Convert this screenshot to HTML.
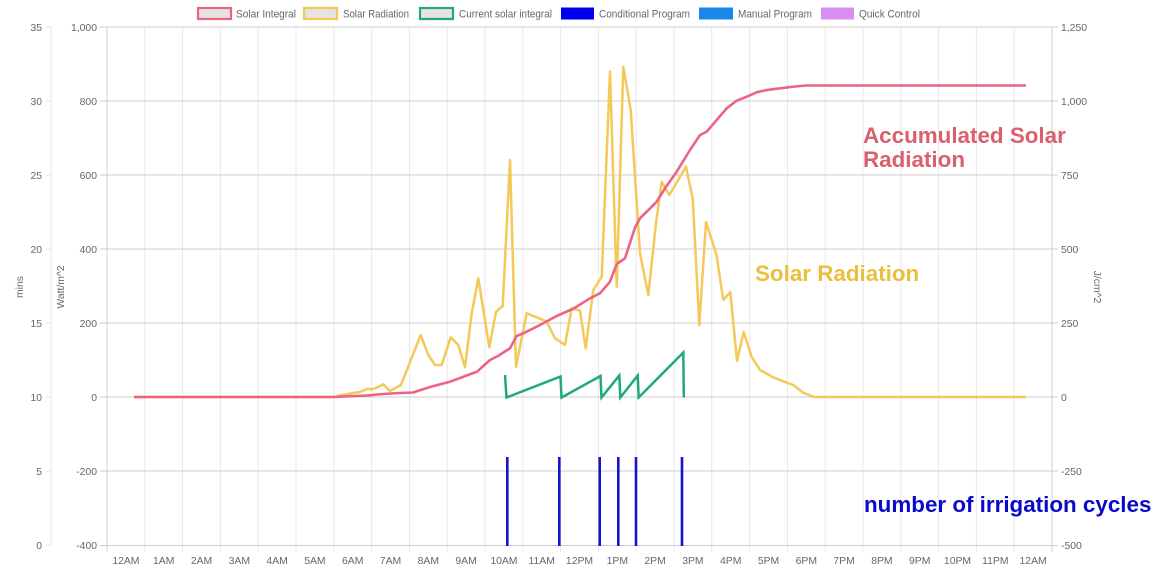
<!DOCTYPE html>
<html>
<head>
<meta charset="utf-8">
<style>
  html,body{margin:0;padding:0;background:#fff;}
  svg{display:block;}
  text{font-family:"Liberation Sans", Arial, sans-serif;}
</style>
</head>
<body>
<svg width="1160" height="576" viewBox="0 0 1160 576" xmlns="http://www.w3.org/2000/svg">
  <rect width="1160" height="576" fill="#fff"/>

  <!-- vertical gridlines -->
  <g stroke="#e8e8ec" stroke-width="1">
    <line x1="144.8" y1="27" x2="144.8" y2="552"/>
    <line x1="182.6" y1="27" x2="182.6" y2="552"/>
    <line x1="220.4" y1="27" x2="220.4" y2="552"/>
    <line x1="258.2" y1="27" x2="258.2" y2="552"/>
    <line x1="296" y1="27" x2="296" y2="552"/>
    <line x1="333.8" y1="27" x2="333.8" y2="552"/>
    <line x1="371.6" y1="27" x2="371.6" y2="552"/>
    <line x1="409.4" y1="27" x2="409.4" y2="552"/>
    <line x1="447.2" y1="27" x2="447.2" y2="552"/>
    <line x1="485" y1="27" x2="485" y2="552"/>
    <line x1="522.8" y1="27" x2="522.8" y2="552"/>
    <line x1="560.6" y1="27" x2="560.6" y2="552"/>
    <line x1="598.4" y1="27" x2="598.4" y2="552"/>
    <line x1="636.2" y1="27" x2="636.2" y2="552"/>
    <line x1="674" y1="27" x2="674" y2="552"/>
    <line x1="711.8" y1="27" x2="711.8" y2="552"/>
    <line x1="749.6" y1="27" x2="749.6" y2="552"/>
    <line x1="787.4" y1="27" x2="787.4" y2="552"/>
    <line x1="825.2" y1="27" x2="825.2" y2="552"/>
    <line x1="863" y1="27" x2="863" y2="552"/>
    <line x1="900.8" y1="27" x2="900.8" y2="552"/>
    <line x1="938.6" y1="27" x2="938.6" y2="552"/>
    <line x1="976.4" y1="27" x2="976.4" y2="552"/>
    <line x1="1014.2" y1="27" x2="1014.2" y2="552"/>
  </g>

  <!-- mins axis line -->
  <line x1="51" y1="27" x2="51" y2="545" stroke="#e6e6e6" stroke-width="1"/>
  <g stroke="#e6e6e6" stroke-width="1">
    <line x1="46" y1="27" x2="51" y2="27"/>
    <line x1="46" y1="101" x2="51" y2="101"/>
    <line x1="46" y1="175" x2="51" y2="175"/>
    <line x1="46" y1="249" x2="51" y2="249"/>
    <line x1="46" y1="323" x2="51" y2="323"/>
    <line x1="46" y1="397" x2="51" y2="397"/>
    <line x1="46" y1="471" x2="51" y2="471"/>
    <line x1="46" y1="545" x2="51" y2="545"/>
  </g>

  <!-- horizontal gridlines -->
  <g stroke="#cdcdcd" stroke-width="1">
    <line x1="100" y1="27" x2="1058" y2="27"/>
    <line x1="100" y1="101" x2="1058" y2="101"/>
    <line x1="100" y1="175" x2="1058" y2="175"/>
    <line x1="100" y1="249" x2="1058" y2="249"/>
    <line x1="100" y1="323" x2="1058" y2="323"/>
    <line x1="100" y1="397" x2="1058" y2="397"/>
    <line x1="100" y1="471" x2="1058" y2="471"/>
    <line x1="100" y1="545.5" x2="1058" y2="545.5"/>
  </g>

  <!-- main axis lines -->
  <line x1="107" y1="27" x2="107" y2="552" stroke="#cfcfcf" stroke-width="1"/>
  <line x1="1052" y1="27" x2="1052" y2="552" stroke="#cfcfcf" stroke-width="1"/>

  <!-- mins tick labels -->
  <g font-size="10.4" fill="#666" text-anchor="end">
    <text x="42" y="31">35</text>
    <text x="42" y="105">30</text>
    <text x="42" y="179">25</text>
    <text x="42" y="253">20</text>
    <text x="42" y="327">15</text>
    <text x="42" y="401">10</text>
    <text x="42" y="475">5</text>
    <text x="42" y="549">0</text>
  </g>

  <!-- Watt tick labels -->
  <g font-size="10.4" fill="#666" text-anchor="end">
    <text x="97" y="31">1,000</text>
    <text x="97" y="105">800</text>
    <text x="97" y="179">600</text>
    <text x="97" y="253">400</text>
    <text x="97" y="327">200</text>
    <text x="97" y="401">0</text>
    <text x="97" y="475">-200</text>
    <text x="97" y="549">-400</text>
  </g>

  <!-- J/cm^2 tick labels -->
  <g font-size="10.4" fill="#666" text-anchor="start">
    <text x="1061" y="31">1,250</text>
    <text x="1061" y="105">1,000</text>
    <text x="1061" y="179">750</text>
    <text x="1061" y="253">500</text>
    <text x="1061" y="327">250</text>
    <text x="1061" y="401">0</text>
    <text x="1061" y="475">-250</text>
    <text x="1061" y="549">-500</text>
  </g>

  <!-- axis titles -->
  <text font-size="10.4" fill="#666" text-anchor="middle" transform="translate(23,287) rotate(-90)">mins</text>
  <text font-size="10.4" fill="#666" text-anchor="middle" transform="translate(64,287) rotate(-90)">Watt/m^2</text>
  <text font-size="10.4" fill="#666" text-anchor="middle" transform="translate(1094,287) rotate(90)">J/cm^2</text>

  <!-- x labels -->
  <g font-size="10.4" fill="#666" text-anchor="middle">
    <text x="125.9" y="564">12AM</text>
    <text x="163.7" y="564">1AM</text>
    <text x="201.5" y="564">2AM</text>
    <text x="239.3" y="564">3AM</text>
    <text x="277.1" y="564">4AM</text>
    <text x="314.9" y="564">5AM</text>
    <text x="352.7" y="564">6AM</text>
    <text x="390.5" y="564">7AM</text>
    <text x="428.3" y="564">8AM</text>
    <text x="466.1" y="564">9AM</text>
    <text x="503.9" y="564">10AM</text>
    <text x="541.7" y="564">11AM</text>
    <text x="579.5" y="564">12PM</text>
    <text x="617.3" y="564">1PM</text>
    <text x="655.1" y="564">2PM</text>
    <text x="692.9" y="564">3PM</text>
    <text x="730.7" y="564">4PM</text>
    <text x="768.5" y="564">5PM</text>
    <text x="806.3" y="564">6PM</text>
    <text x="844.1" y="564">7PM</text>
    <text x="881.9" y="564">8PM</text>
    <text x="919.7" y="564">9PM</text>
    <text x="957.5" y="564">10PM</text>
    <text x="995.3" y="564">11PM</text>
    <text x="1033.1" y="564">12AM</text>
  </g>

  <!-- legend -->
  <g font-size="10.6" fill="#666">
    <rect x="198" y="8" width="33" height="11" fill="#e6e3e0" stroke="#ec6482" stroke-width="2.2"/>
    <text x="236" y="17.5" textLength="60" lengthAdjust="spacingAndGlyphs">Solar Integral</text>
    <rect x="304" y="8" width="33" height="11" fill="#e6e3e0" stroke="#f5c85a" stroke-width="2.2"/>
    <text x="343" y="17.5" textLength="66" lengthAdjust="spacingAndGlyphs">Solar Radiation</text>
    <rect x="420" y="8" width="33" height="11" fill="#e6e3e0" stroke="#22a97a" stroke-width="2.2"/>
    <text x="459" y="17.5" textLength="93" lengthAdjust="spacingAndGlyphs">Current solar integral</text>
    <rect x="561" y="7.5" width="33" height="12" fill="#0000ee"/>
    <text x="599" y="17.5" textLength="91" lengthAdjust="spacingAndGlyphs">Conditional Program</text>
    <rect x="699" y="7.5" width="34" height="12" fill="#1a88ea"/>
    <text x="738" y="17.5" textLength="74" lengthAdjust="spacingAndGlyphs">Manual Program</text>
    <rect x="821" y="7.5" width="33" height="12" fill="#d98cf2"/>
    <text x="859" y="17.5" textLength="61" lengthAdjust="spacingAndGlyphs">Quick Control</text>
  </g>

  <!-- irrigation bars -->
  <g stroke="#1414c8" stroke-width="2.6">
    <line x1="507.3" y1="457" x2="507.3" y2="546"/>
    <line x1="559.3" y1="457" x2="559.3" y2="546"/>
    <line x1="599.7" y1="457" x2="599.7" y2="546"/>
    <line x1="618.3" y1="457" x2="618.3" y2="546"/>
    <line x1="636" y1="457" x2="636" y2="546"/>
    <line x1="682" y1="457" x2="682" y2="546"/>
  </g>

  <!-- Solar Radiation (yellow) -->
  <polyline fill="none" stroke="#f5c85a" stroke-width="2.5" stroke-linejoin="round" points="
    134,397 335,397 341,395 348,394 353,393 360,392 367,389 373,389 380,386 383,384.3 390,391 401,385
    420.7,335 428.3,355 435,365 441.7,365 450.7,337.3 458.3,345 465,367.3 471.7,313.3 478.3,278.3
    489.3,347.3 496,311.7 502.7,306 510,160 516,366.7 526.7,313.3 536.7,317.3 546.7,321.7 555,338.3
    565,345 571.7,308.3 580,310.7 585.7,348.3 593.3,290 601.7,277 610,71.7 616.7,286.7 623.3,66.7
    630.7,110 640,253.3 648.3,295 656,223.3 661.7,181.7 669.3,195 686,166.7 692.7,198.3 699.3,325
    706,222 716.5,255 723.3,300 730.3,292 737,361 743.7,332 751.7,357 760,370 773.3,377.3
    786.7,382.7 793.3,385 803.3,392.7 813.3,396.7 820,397 1026,397"/>

  <!-- Solar Integral (pink) -->
  <polyline fill="none" stroke="#ec6482" stroke-width="2.6" stroke-linejoin="round" points="
    134,397 333,397 367,395.5 383,394 400,393 413,392.5 430,387 450,381.7 468,375 477,371.7
    490,360 498,356 510,348.3 516.7,336 523.3,333.3 540,325 556.7,316 573.3,308.7 590,298.3
    600,293.3 610,281.7 616.7,264 625,258.3 635,227.5 640,218.3 646.7,211.7 656.7,201.7
    665,188.3 676.7,171.7 690,150 700,135 706.7,131.7 716.7,120 726.7,108.3 736.7,100.7
    746.7,96.7 756.7,92.3 766.7,90 780,88.3 795,86.5 806,85.5 1026,85.5"/>

  <!-- Current solar integral (green) -->
  <polyline fill="none" stroke="#22a97a" stroke-width="2.5" stroke-linejoin="miter" points="
    505,375 506.5,397.5 560.5,376.5 561.5,397.5 600.5,376 601.5,397.5 619.3,375.5 620.3,397.5
    637.7,375.5 638.7,397.5 683.3,352.5 683.8,397.5"/>

  <!-- annotations -->
  <g font-size="22.4" font-weight="bold">
    <text x="863" y="143" fill="#d9606c">Accumulated Solar</text>
    <text x="863" y="167" fill="#d9606c">Radiation</text>
    <text x="755" y="281" fill="#ebbe3e">Solar Radiation</text>
    <text x="864" y="512" fill="#0a0acc">number of irrigation cycles</text>
  </g>
</svg>
</body>
</html>
